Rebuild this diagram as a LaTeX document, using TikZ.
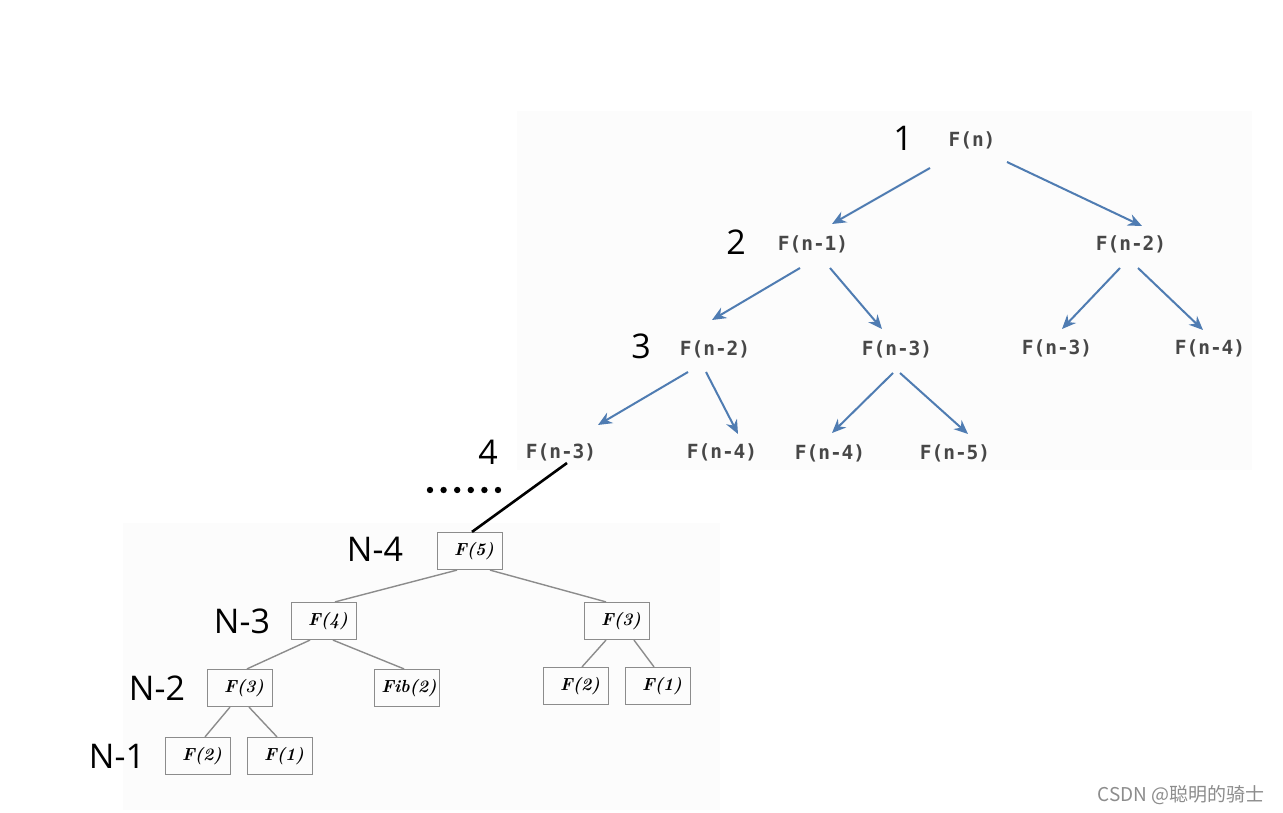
\documentclass[tikz,border=0pt]{standalone}
\usepackage{fontspec}
\setmainfont{Open Sans}
\newfontfamily\monof{DejaVu Sans Mono}
\newfontfamily\cjkf{Noto Sans CJK SC}
\usetikzlibrary{arrows.meta}
\definecolor{arrowblue}{RGB}{79,124,178}
\definecolor{boxgray}{RGB}{140,140,140}
\definecolor{bgpale}{RGB}{252,252,252}
\tikzset{
  lvl/.style={font=\fontsize{34}{36}\selectfont, text=black, inner sep=0pt},
  ftxt/.style={font=\monof\bfseries\fontsize{19.5}{22}\selectfont, text=black!72, inner sep=0pt},
  barrow/.style={draw=arrowblue, line width=2pt, -{Stealth[length=14pt,width=12pt]}},
  fbox/.style={draw=boxgray, line width=1.2pt, minimum width=65pt, minimum height=37pt, inner sep=0pt,
    font=\fontspec{Latin Modern Roman}\bfseries\itshape\fontsize{17.5}{19}\selectfont},
  glink/.style={draw=boxgray, line width=1.4pt},
}
\begin{document}
\begin{tikzpicture}[x=1pt,y=-1pt]
\useasboundingbox (0,0) rectangle (1283,813);
\fill[white] (0,0) rectangle (1283,813);
\fill[bgpale] (517,111) rectangle (1252,470);
\fill[bgpale] (123,523) rectangle (720,810);

% upper tree
\node[lvl] (l1) at (903,138) {1};
\node[lvl] (l2) at (736,242) {2};
\node[lvl] (l3) at (641,346) {3};
\node[lvl] (l4) at (488,452) {4};

\node[ftxt] (fn)  at (972,140) {F(n)};
\node[ftxt] (fn1) at (813,244) {F(n-1)};
\node[ftxt] (fn2) at (1131,244) {F(n-2)};
\node[ftxt] (fa)  at (715,349) {F(n-2)};
\node[ftxt] (fb)  at (897,349) {F(n-3)};
\node[ftxt] (fc)  at (1057,348) {F(n-3)};
\node[ftxt] (fd)  at (1210,348) {F(n-4)};
\node[ftxt] (ga)  at (561,452) {F(n-3)};
\node[ftxt] (gb)  at (722,452) {F(n-4)};
\node[ftxt] (gc)  at (830,453) {F(n-4)};
\node[ftxt] (gd)  at (955,453) {F(n-5)};

\draw[barrow] ([shift={(-42,28)}]fn.center) -- ([shift={(19,-20)}]fn1.center);
\draw[barrow] ([shift={(35,22)}]fn.center) -- ([shift={(11,-18)}]fn2.center);
\draw[barrow] ([shift={(-13,24)}]fn1.center) -- ([shift={(-3,-29)}]fa.center);
\draw[barrow] ([shift={(17,24)}]fn1.center) -- ([shift={(-15,-20)}]fb.center);
\draw[barrow] ([shift={(-11,24)}]fn2.center) -- ([shift={(5,-19)}]fc.center);
\draw[barrow] ([shift={(7,24)}]fn2.center) -- ([shift={(-7,-18)}]fd.center);
\draw[barrow] ([shift={(-27,23)}]fa.center) -- ([shift={(37,-27)}]ga.center);
\draw[barrow] ([shift={(-9,23)}]fa.center) -- ([shift={(16,-18)}]gb.center);
\draw[barrow] ([shift={(-4,24)}]fb.center) -- ([shift={(2,-20)}]gc.center);
\draw[barrow] ([shift={(3,24)}]fb.center) -- ([shift={(13,-19)}]gd.center);

% dots
\foreach \i in {0,...,5} \fill[black] (430+13.6*\i,490) circle (3.2pt);

% lower tree
\node[lvl] (n4) at (375,549) {N-4};
\node[lvl] (n3) at (242,621) {N-3};
\node[lvl] (n2) at (157,688) {N-2};
\node[lvl] (n1) at (117,756) {N-1};

\node[fbox] (b5)  at (470,551) {\hspace*{8pt}F(5)};
\node[fbox] (b4)  at (324,621) {\hspace*{8pt}F(4)};
\node[fbox] (b3r) at (617,621) {\hspace*{8pt}F(3)};
\node[fbox] (b3l) at (240,688) {\hspace*{8pt}F(3)};
\node[fbox] (bfib) at (407,688) {\hspace*{4pt}Fib(2)};
\node[fbox] (b2r) at (576,686) {\hspace*{8pt}F(2)};
\node[fbox] (b1r) at (658,686) {\hspace*{8pt}F(1)};
\node[fbox] (b2l) at (198,756) {\hspace*{8pt}F(2)};
\node[fbox] (b1l) at (280,756) {\hspace*{8pt}F(1)};

\draw[black, line width=2.6pt] (b5.north) ++(2,0) -- ([shift={(6,11)}]ga.center);

\draw[glink] ([xshift=-13pt]b5.south) -- ([xshift=11pt]b4.north);
\draw[glink] ([xshift=20pt]b5.south) -- ([xshift=-11pt]b3r.north);
\draw[glink] ([xshift=-14pt]b4.south) -- ([xshift=7pt]b3l.north);
\draw[glink] ([xshift=9pt]b4.south) -- ([xshift=-3pt]bfib.north);
\draw[glink] ([xshift=-11pt]b3r.south) -- ([xshift=6pt]b2r.north);
\draw[glink] ([xshift=17pt]b3r.south) -- ([xshift=-4pt]b1r.north);
\draw[glink] ([xshift=-10pt]b3l.south) -- ([xshift=7pt]b2l.north);
\draw[glink] ([xshift=9pt]b3l.south) -- ([xshift=-3pt]b1l.north);

% watermark
\node[font=\cjkf\fontsize{19}{21}\selectfont, text=black!45, inner sep=0pt] (wm) at (1181,795) {CSDN @聪明的骑士};
\end{tikzpicture}
\end{document}
